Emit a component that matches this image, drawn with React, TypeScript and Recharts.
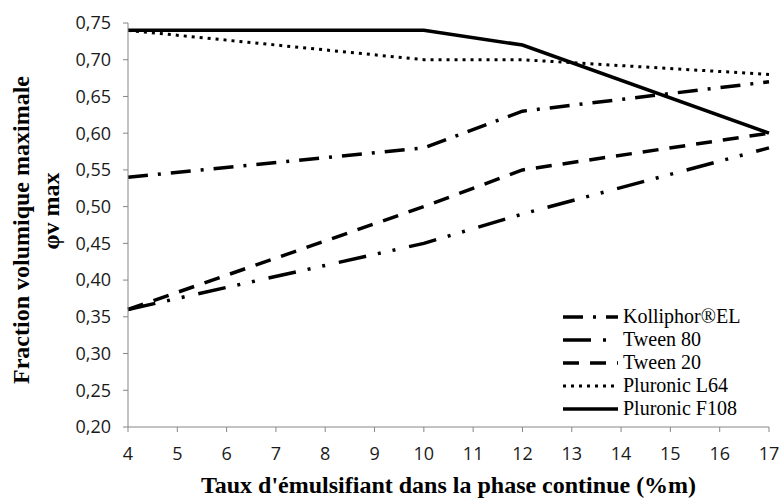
import React from "react";
import { LineChart, Line, XAxis, YAxis, Legend, Label } from "recharts";

const xValues = [4, 10, 12, 17];
const kolliphor = [0.54, 0.58, 0.63, 0.67];
const tween80 = [0.36, 0.45, 0.49, 0.58];
const tween20 = [0.36, 0.5, 0.55, 0.6];
const pluronicL64 = [0.74, 0.7, 0.7, 0.68];
const pluronicF108 = [0.74, 0.74, 0.72, 0.6];

const xTicks = [4, 5, 6, 7, 8, 9, 10, 11, 12, 13, 14, 15, 16, 17];
const yTicks = [0.2, 0.25, 0.3, 0.35, 0.4, 0.45, 0.5, 0.55, 0.6, 0.65, 0.7, 0.75];

const xTitle = "Taux d'émulsifiant dans la phase continue (%m)";
const yTitle1 = "Fraction volumique maximale";
const yTitle2 = "φv max";

const series = [
  { key: "kolliphor", name: "Kolliphor®EL", values: kolliphor, dash: "20 10 3 10", width: 3.5 },
  { key: "tween80", name: "Tween 80", values: tween80, dash: "28 12 3 12 3 14", width: 3.5 },
  { key: "tween20", name: "Tween 20", values: tween20, dash: "16 11", width: 3.5 },
  { key: "l64", name: "Pluronic L64", values: pluronicL64, dash: "3 5", width: 3 },
  { key: "f108", name: "Pluronic F108", values: pluronicF108, dash: undefined, width: 3.5 },
];

const data = xValues.map((x, i) => {
  const row: any = { x };
  series.forEach((s) => {
    row[s.key] = s.values[i];
  });
  return row;
});

const SERIF = "'Times New Roman', 'Liberation Serif', serif";
const AXIS = "#868686";
const TICK_FONT = { fontFamily: "'Open Sans', sans-serif", fontSize: 18, fill: "#1a1a1a" };

const LegendContent = () => (
  <div style={{ fontFamily: SERIF, fontSize: 20, color: "#000", lineHeight: "23px" }}>
    {series.map((s) => (
      <div key={s.key} style={{ display: "flex", alignItems: "center", height: 23 }}>
        <svg width={56} height={10} style={{ marginRight: 4 }}>
          <line x1={0} y1={5} x2={55} y2={5} stroke="#000" strokeWidth={s.width} strokeDasharray={s.dash} />
        </svg>
        <span style={{ fontFamily: SERIF }}>{s.name}</span>
      </div>
    ))}
  </div>
);

export default function App() {
  return (
    <div style={{ position: "absolute", left: 0, top: 0, width: 781, height: 500, background: "#fff" }}>
      <LineChart width={781} height={500} data={data} margin={{ top: 23, right: 12, bottom: 0, left: 0 }}>
        <XAxis
          dataKey="x"
          type="number"
          domain={[4, 17]}
          ticks={xTicks}
          interval={0}
          stroke={AXIS}
          tickLine={{ stroke: AXIS }}
          tickSize={5}
          tickMargin={15}
          tick={TICK_FONT}
          height={73}
        >
          <Label
            content={(props: any) => {
              const vb = props.viewBox;
              return (
                <text
                  x={vb.x + vb.width / 2}
                  y={vb.y + 66}
                  textAnchor="middle"
                  style={{ fontFamily: SERIF, fontWeight: "bold", fontSize: 24 }}
                  fill="#000"
                >
                  {xTitle}
                </text>
              );
            }}
          />
        </XAxis>
        <YAxis
          type="number"
          domain={[0.2, 0.75]}
          ticks={yTicks}
          interval={0}
          width={128}
          stroke={AXIS}
          tickLine={{ stroke: AXIS }}
          tickSize={5}
          tickMargin={12}
          tick={TICK_FONT}
          tickFormatter={(v: number) => v.toFixed(2).replace(".", ",")}
        >
          <Label
            content={(props: any) => {
              const vb = props.viewBox;
              const cy = vb.y + vb.height / 2;
              return (
                <g style={{ fontFamily: SERIF, fontWeight: "bold", fontSize: 24 }} fill="#000">
                  <text x={29} y={cy + 5} textAnchor="middle" transform={`rotate(-90, 29, ${cy + 5})`}>
                    {yTitle1}
                  </text>
                  <text x={59} y={cy - 14} textAnchor="middle" transform={`rotate(-90, 59, ${cy - 14})`}>
                    {yTitle2}
                  </text>
                </g>
              );
            }}
          />
        </YAxis>
        <Legend
          layout="vertical"
          align="center"
          verticalAlign="middle"
          content={<LegendContent />}
          wrapperStyle={{ left: 563, top: 305, width: 215, height: 118 }}
        />
        {series.map((s) => (
          <Line
            key={s.key}
            dataKey={s.key}
            name={s.name}
            stroke="#000"
            strokeWidth={s.width}
            strokeDasharray={s.dash}
            dot={false}
            activeDot={false}
            type="linear"
            isAnimationActive={false}
          />
        ))}
      </LineChart>
    </div>
  );
}
